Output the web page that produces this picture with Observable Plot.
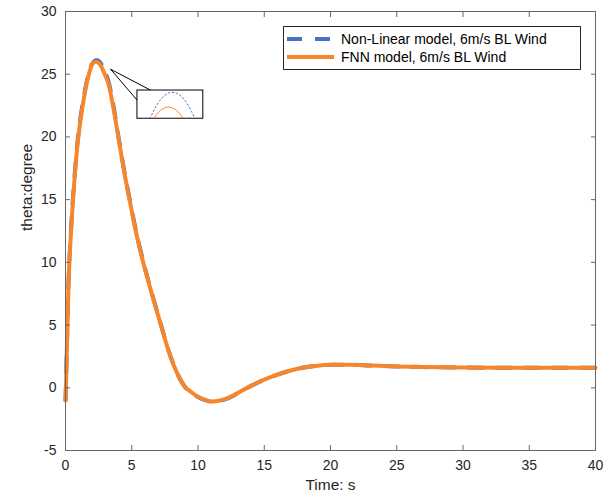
<!DOCTYPE html>
<html><head><meta charset="utf-8">
<script src="https://cdn.jsdelivr.net/npm/d3@7"></script>
<script src="https://cdn.jsdelivr.net/npm/@observablehq/plot@0.6"></script>
<style>
body{margin:0;background:#fff;font-family:"Liberation Sans",Arial,Helvetica,sans-serif;}
#wrap{position:relative;width:611px;height:499px;}
.leg{position:absolute;background:#fff;border:1px solid #262626;box-sizing:border-box;}
.row{position:absolute;left:0;height:18px;display:flex;align-items:center;font-size:14px;color:#000;white-space:nowrap;}
.row svg{margin-left:3px;margin-right:6px;}
</style></head><body><div id="wrap"></div>
<script>
const time = [0, 0.05, 0.1, 0.15, 0.23, 0.35, 0.48, 0.65, 0.86, 1.1, 1.36, 1.6, 1.86, 2.0, 2.1, 2.2, 2.3, 2.4, 2.5, 2.6, 2.7, 2.8, 3.0, 3.25, 3.6, 4.0, 4.4, 4.83, 5.3, 5.86, 6.5, 7.2, 7.7, 8.17, 8.6, 9.0, 9.43, 10.0, 10.5, 11.07, 11.6, 12.2, 12.7, 13.2, 14.0, 15.0, 16.0, 17.0, 18.0, 19.0, 20.0, 21.5, 23.0, 25.0, 27.0, 30.0, 33.0, 36.0, 40.0];
const nonLinear = [-1.0, 0.8, 3.2, 5.2, 8.5, 11.4, 13.8, 16.4, 19.1, 21.3, 23.05, 24.4, 25.42, 25.81, 25.96, 26.06, 26.11, 26.11, 26.06, 25.96, 25.81, 25.61, 25.15, 24.4, 22.6, 20.0, 17.5, 15.1, 12.6, 10.1, 7.6, 5.05, 3.2, 1.8, 0.78, 0.08, -0.32, -0.74, -0.97, -1.1, -1.04, -0.86, -0.61, -0.3, 0.15, 0.65, 1.05, 1.38, 1.62, 1.76, 1.83, 1.84, 1.78, 1.7, 1.65, 1.61, 1.6, 1.6, 1.6];
const fnn = [-1.0, 0.6, 3.0, 5.0, 8.3, 11.2, 13.6, 16.2, 18.9, 21.1, 22.9, 24.3, 25.35, 25.78, 25.9, 25.975, 26.0, 25.975, 25.9, 25.78, 25.6, 25.38, 24.9, 24.2, 22.4, 19.9, 17.4, 15.0, 12.5, 10.0, 7.55, 5.0, 3.2, 1.8, 0.8, 0.1, -0.3, -0.72, -0.95, -1.09, -1.03, -0.85, -0.6, -0.3, 0.15, 0.65, 1.05, 1.38, 1.62, 1.76, 1.83, 1.84, 1.78, 1.7, 1.65, 1.61, 1.6, 1.6, 1.6];
const xTicks = [0, 5, 10, 15, 20, 25, 30, 35, 40];
const yTicks = [-5, 0, 5, 10, 15, 20, 25, 30];
const seriesNames = ["Non-Linear model, 6m/s BL Wind", "FNN model, 6m/s BL Wind"];
const xLabel = "Time: s";
const yLabel = "theta:degree";
// zoomed inset around the peak (data units)
const zoomT = [1.9, 2.75];
const zoomY = [25.91, 26.13];
const insetBox = {t1: 5.43, t2: 10.4, yTop: 23.7, yBottom: 21.45};
const callouts = [
  {t1: 3.4, v1: 25.4, t2: 6.47, v2: 23.7},
  {t1: 3.4, v1: 25.4, t2: 5.43, v2: 22.9}
];

const blue = "#4472c4", orange = "#f7862b", axisColor = "#666";
const rows = time.map((t, i) => ({t, nl: nonLinear[i], fnn: fnn[i]}));
const font = '"Liberation Sans", Arial, Helvetica, sans-serif';
const fmt = d => String(d);

const plot = Plot.plot({
  width: 611, height: 499,
  marginLeft: 65, marginRight: 16, marginTop: 11, marginBottom: 49,
  style: {fontFamily: font, fontSize: "14px", color: "#262626", background: "#fff", overflow: "visible"},
  x: {domain: [0, 40]},
  y: {domain: [-5, 30]},
  marks: [
    Plot.line(rows, {x: "t", y: "nl", stroke: blue, strokeWidth: 4, strokeDasharray: "15,13", curve: "monotone-x"}),
    Plot.line(rows, {x: "t", y: "fnn", stroke: orange, strokeWidth: 4, curve: "monotone-x"}),
    Plot.link(callouts, {x1: "t1", y1: "v1", x2: "t2", y2: "v2", stroke: "#000", strokeWidth: 1}),
    Plot.rect([insetBox], {x1: "t1", x2: "t2", y1: "yBottom", y2: "yTop", fill: "#fff", stroke: "#000", strokeWidth: 1}),
    Plot.axisX(xTicks, {anchor: "bottom", tickSize: 0, tickPadding: 10, tickFormat: fmt, label: null, fontSize: 14, fill: "#262626"}),
    Plot.axisX(xTicks, {anchor: "bottom", tickSize: -5, tickFormat: () => "", label: null, stroke: axisColor}),
    Plot.axisX(xTicks, {anchor: "top", tickSize: -5, tickFormat: () => "", label: null, stroke: axisColor}),
    Plot.axisY(yTicks, {anchor: "left", tickSize: 0, tickPadding: 9, tickFormat: fmt, label: null, fontSize: 14, fill: "#262626"}),
    Plot.axisY(yTicks, {anchor: "left", tickSize: -5, tickFormat: () => "", label: null, stroke: axisColor}),
    Plot.axisY(yTicks, {anchor: "right", tickSize: -5, tickFormat: () => "", label: null, stroke: axisColor}),
    Plot.frame({stroke: axisColor}),
    Plot.text([xLabel], {frameAnchor: "bottom", dy: 39, fontSize: 15.5, fill: "#262626"}),
    Plot.text([yLabel], {frameAnchor: "left", dx: -38, rotate: -90, fontSize: 15.5, fill: "#262626"})
  ]
});
const wrap = document.getElementById("wrap");
wrap.appendChild(plot);

// inset placed from the main scales
const xs = plot.scale("x"), ys = plot.scale("y");
const L = xs.apply(insetBox.t1), R = xs.apply(insetBox.t2);
const T = ys.apply(insetBox.yTop), B = ys.apply(insetBox.yBottom);
const inset = Plot.plot({
  width: Math.round(R - L), height: Math.round(B - T), margin: 0,
  style: {background: "transparent", overflow: "hidden"},
  x: {domain: zoomT, axis: null},
  y: {domain: zoomY, axis: null},
  marks: [
    Plot.line(rows, {x: "t", y: "nl", stroke: blue, strokeWidth: 1, strokeDasharray: "1.5,2.5", curve: "catmull-rom"}),
    Plot.line(rows, {x: "t", y: "fnn", stroke: orange, strokeWidth: 1, curve: "catmull-rom"})
  ]
});
inset.style.position = "absolute";
inset.style.left = L + "px";
inset.style.top = T + "px";
wrap.appendChild(inset);

// legend
const leg = document.createElement("div");
leg.className = "leg";
Object.assign(leg.style, {left: "283px", top: "26px", width: "298px", height: "44px"});
const styles = [{stroke: blue, dash: "15,13"}, {stroke: orange, dash: null}];
seriesNames.forEach((name, i) => {
  const r = document.createElement("div");
  r.className = "row";
  r.style.top = (i === 0 ? 3 : 21) + "px";
  r.innerHTML = `<svg width="48" height="8"><line x1="0" x2="47" y1="4" y2="4" stroke="${styles[i].stroke}" stroke-width="4" ${styles[i].dash ? `stroke-dasharray="${styles[i].dash}"` : ""}/></svg><span>${name}</span>`;
  leg.appendChild(r);
});
wrap.appendChild(leg);
</script>
</body></html>
